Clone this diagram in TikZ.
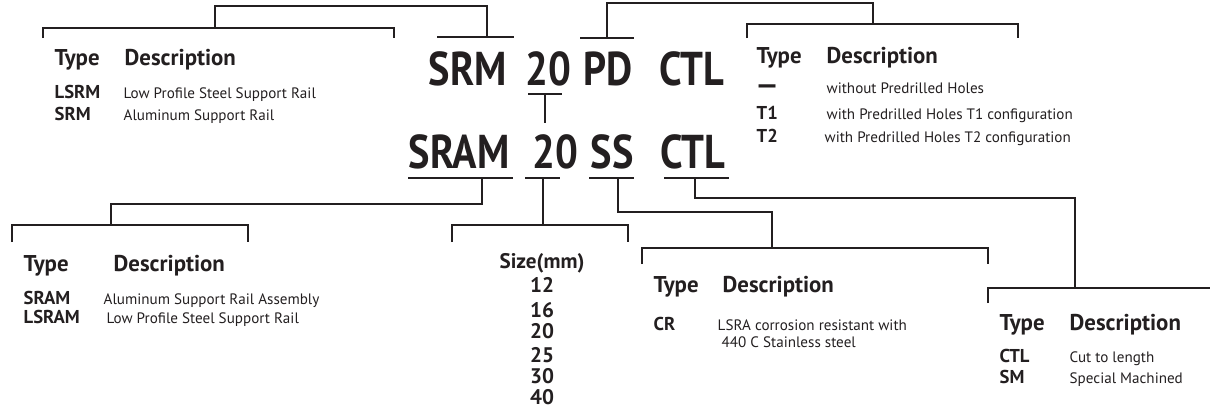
\documentclass[tikz,border=0pt]{standalone}
\usepackage{fontspec}
\setmainfont{PT Sans}
\newfontfamily\partfont{PT Sans}[FakeStretch=0.85]
\usepackage{tikz}
\definecolor{railink}{RGB}{35,31,32}

\begin{document}
\begin{tikzpicture}[x=0.02cm, y=-0.02cm, line width=0.8pt, railink,
  part/.style={font=\partfont\bfseries\fontsize{27}{27}\selectfont, inner sep=0pt, anchor=base west},
  head/.style={font=\bfseries\fontsize{13}{13}\selectfont, inner sep=0pt, anchor=base west},
  code/.style={font=\bfseries\fontsize{10.6}{10.6}\selectfont, inner sep=0pt, anchor=base west},
  desc/.style={font=\fontsize{8.6}{8.6}\selectfont, inner sep=0pt, anchor=base west},
  sizenum/.style={font=\bfseries\fontsize{12}{12}\selectfont, inner sep=0pt, anchor=base}]
  \useasboundingbox (0,0) rectangle (1210,410);

  % part numbers
  \node[part] (p-srm) at (428,85) {SRM};
  \node[part] (p-20a) at (525,85) {20};
  \node[part] (p-pd) at (583,85) {PD};
  \node[part] (p-ctla) at (659,85) {CTL};
  \node[part] (p-sram) at (408,168) {SRAM};
  \node[part] (p-20b) at (532,168) {20};
  \node[part] (p-ss) at (590,168) {SS};
  \node[part] (p-ctlb) at (660,168) {CTL};

  % underlines and where the leader leaves them
  \foreach \nm/\l/\r/\y/\tx in {srm/437/514/37/487, pd/580/634/38/607, mid/528/562/94/545,
      sram/408/513/178/482, num/525/560/178/543, ss/589/634/178/618, ctl/664/729/178/695} {
    \draw (\l,\y) -- (\r,\y);
    \coordinate (t-\nm) at (\tx,\y);
  }

  % brackets over the tables
  \foreach \nm/\l/\r/\y/\tk/\j in {tl/43/394/28/10/215, tr/747/1018/24/14/873,
      bl/12/248/225/17/111, bs/452/628/225/17/543, bc/642/988/248/16/772} {
    \draw (\l,\y+\tk) -- (\l,\y) -- (\r,\y) -- (\r,\y+\tk);
    \coordinate (\nm) at (\j,\y);
  }
  \draw (988,303) -- (988,288) -- (1210,288);
  \coordinate (bt) at (1075,288);
  \coordinate (midend) at (545,123);

  % leaders
  \draw (t-srm) -- ++(0,-31) -| (tl);
  \draw (t-pd) -- ++(0,-35) -| (tr);
  \draw (t-mid) -- (midend);
  \draw (t-sram) -- ++(0,26) -| (bl);
  \draw (t-num) -- (bs);
  \draw (t-ss) -- ++(0,34) -| (bc);
  \draw (t-ctl) -- ++(0,20) -| (bt);

  % rail type (top left)
  \node[head] (tl-type) at (54,65) {Type};
  \node[head] (tl-desc) at (124,65) {Description};
  \node[code] (tl-c1) at (54,98) {LSRM};
  \node[desc] (tl-d1) at (123,98) {Low Profile Steel Support Rail};
  \node[code] (tl-c2) at (54,120) {SRM};
  \node[desc] (tl-d2) at (123,120) {Aluminum Support Rail};

  % holes (top right)
  \node[head] (tr-type) at (756,63) {Type};
  \node[head] (tr-desc) at (826,63) {Description};
  \node[code, font=\bfseries\fontsize{16}{16}\selectfont] (tr-c1) at (755,94) {—};
  \node[desc] (tr-d1) at (826,93) {without Predrilled Holes};
  \node[code] (tr-c2) at (756,119) {T1};
  \node[desc] (tr-d2) at (826,119) {with Predrilled Holes T1 configuration};
  \node[code] (tr-c3) at (756,142) {T2};
  \node[desc] (tr-d3) at (824,142) {with Predrilled Holes T2 configuration};

  % assembly type (bottom left)
  \node[head] (bl-type) at (23,271) {Type};
  \node[head] (bl-desc) at (113,271) {Description};
  \node[code] (bl-c1) at (23,304) {SRAM};
  \node[desc] (bl-d1) at (103,304) {Aluminum Support Rail Assembly};
  \node[code] (bl-c2) at (23,323) {LSRAM};
  \node[desc] (bl-d2) at (106,323) {Low Profile Steel Support Rail};

  % sizes
  \node[sizenum] (bs-head) at (542,268) {Size(mm)};
  \foreach \v/\y in {12/292, 16/317, 20/338, 25/362, 30/383, 40/404}
    \node[sizenum] (bs-\v) at (542,\y) {\v};

  % material (bottom middle)
  \node[head] (bc-type) at (653,292) {Type};
  \node[head] (bc-desc) at (722,292) {Description};
  \node[code] (bc-c1) at (653,330) {CR};
  \node[desc] (bc-d1) at (717,330) {LSRA corrosion resistant with};
  \node[desc] (bc-d2) at (721,347) {440 C Stainless steel};

  % length (bottom right)
  \node[head] (bt-type) at (999,330) {Type};
  \node[head] (bt-desc) at (1069,330) {Description};
  \node[code] (bt-c1) at (999,362) {CTL};
  \node[desc] (bt-d1) at (1069,362) {Cut to length};
  \node[code] (bt-c2) at (999,383) {SM};
  \node[desc] (bt-d2) at (1069,383) {Special Machined};
\end{tikzpicture}
\end{document}
